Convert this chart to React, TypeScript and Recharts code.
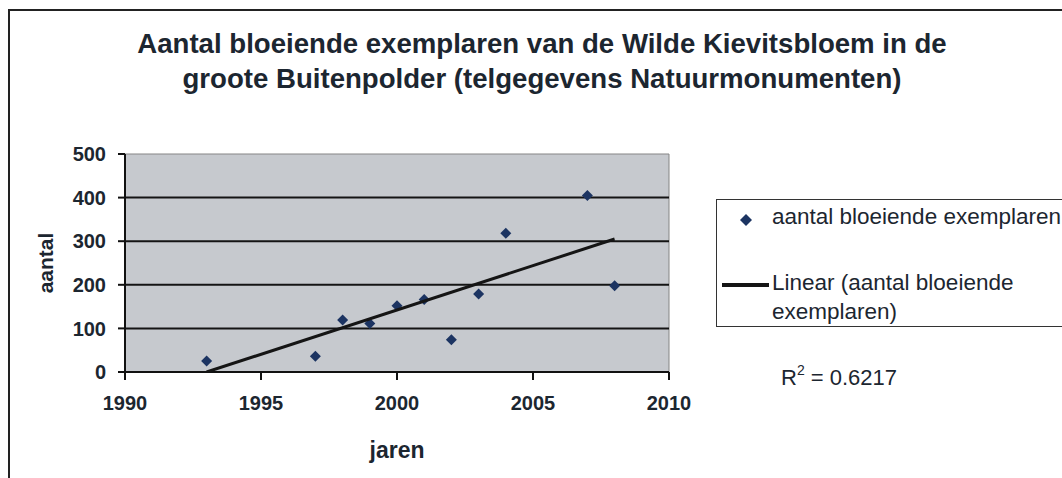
import { ScatterChart, Scatter, XAxis, YAxis, ReferenceArea, ReferenceLine, Label } from 'recharts'

// jaren + aantal bloeiende exemplaren
const years = [1993, 1997, 1998, 1999, 2000, 2001, 2002, 2003, 2004, 2007, 2008]
const counts = [25, 36, 119, 111, 152, 166, 74, 179, 318, 405, 198]

const trendYears = [1993, 2008]
const trendValues = [0, 305]

const xTicks = [1990, 1995, 2000, 2005, 2010]
const yTicks = [0, 100, 200, 300, 400, 500]
const gridValues = [100, 200, 300, 400]

const points = years.map((x, i) => ({ x, y: counts[i] }))
const trend = trendYears.map((x, i) => ({ x, y: trendValues[i] }))

const FONT = '"Liberation Sans", Arial, sans-serif'
const TEXT = '#1c2630'
const MARK = '#1c3462'

const Diamond = (props: any) => {
  const { cx, cy } = props
  const r = 5.5
  return <path d={`M${cx},${cy - r}L${cx + r},${cy}L${cx},${cy + r}L${cx - r},${cy}Z`} fill={MARK} />
}

export default function App() {
  const tickStyle = { fontSize: 20, fontWeight: 700, fill: TEXT, fontFamily: FONT }
  return (
    <div style={{ position: 'fixed', left: 0, top: 0, width: 1062, height: 478, overflow: 'hidden', background: '#fff', fontFamily: FONT }}>
      <div style={{ position: 'absolute', left: 8, top: 9, width: 1100, height: 500, borderLeft: '2px solid #222', borderTop: '2px solid #222' }} />
      <div style={{ position: 'absolute', left: 0, width: 1084, top: 26, textAlign: 'center', fontSize: 27.6, fontWeight: 700, color: TEXT, lineHeight: '35px', whiteSpace: 'nowrap' }}>
        Aantal bloeiende exemplaren van de Wilde Kievitsbloem in de
        <br />
        groote Buitenpolder (telgegevens Natuurmonumenten)
      </div>
      <div style={{ position: 'absolute', left: 0, top: 0 }}>
        <ScatterChart width={1062} height={478} margin={{ top: 154, right: 393, bottom: 66, left: 65 }}>
          <ReferenceArea x1={1990} x2={2010} y1={0} y2={500} fill="#c6c9ce" fillOpacity={1} stroke="#858585" strokeWidth={1} />
          {gridValues.map(v => (
            <ReferenceLine key={v} y={v} stroke="#141414" strokeWidth={2} />
          ))}
          <XAxis
            type="number"
            dataKey="x"
            domain={[1990, 2010]}
            ticks={xTicks}
            allowDataOverflow
            axisLine={{ stroke: '#111', strokeWidth: 2 }}
            tickLine={{ stroke: '#111', strokeWidth: 2 }}
            tickSize={8}
            tickMargin={16}
            tick={tickStyle}
            height={40}
          >
            <Label value="jaren" position="bottom" offset={30} style={{ fontSize: 23, fontWeight: 700, fill: TEXT, fontFamily: FONT }} />
          </XAxis>
          <YAxis
            type="number"
            dataKey="y"
            domain={[0, 500]}
            ticks={yTicks}
            allowDataOverflow
            axisLine={{ stroke: '#111', strokeWidth: 2 }}
            tickLine={{ stroke: '#111', strokeWidth: 2 }}
            tickSize={7}
            tickMargin={12}
            tick={tickStyle}
            width={60}
          >
            <Label value="aantal" angle={-90} position="insideLeft" offset={-19} style={{ fontSize: 21, fontWeight: 700, fill: TEXT, fontFamily: FONT, textAnchor: 'middle' }} />
          </YAxis>
          <Scatter data={points} shape={<Diamond />} isAnimationActive={false} />
          <Scatter data={trend} line={{ stroke: '#151515', strokeWidth: 3 }} shape={() => <g />} isAnimationActive={false} />
        </ScatterChart>
      </div>
      <div style={{ position: 'absolute', left: 716, top: 199, width: 400, height: 128, border: '1.5px solid #333', boxSizing: 'border-box' }}>
        <svg style={{ position: 'absolute', left: 22, top: 13 }} width={14} height={14}>
          <path d="M7,1L13,7L7,13L1,7Z" fill={MARK} />
        </svg>
        <div style={{ position: 'absolute', left: 55, top: 4, fontSize: 22.5, color: TEXT, whiteSpace: 'nowrap' }}>aantal bloeiende exemplaren</div>
        <div style={{ position: 'absolute', left: 5, top: 83, width: 47, height: 4, background: '#151515' }} />
        <div style={{ position: 'absolute', left: 55, top: 68, fontSize: 22.5, color: TEXT, lineHeight: '29px', whiteSpace: 'nowrap' }}>
          Linear (aantal bloeiende
          <br />
          exemplaren)
        </div>
      </div>
      <div style={{ position: 'absolute', left: 781, top: 365, fontSize: 22, color: TEXT }}>
        R<sup style={{ fontSize: 14, verticalAlign: 'top', position: 'relative', top: -3 }}>2</sup> = 0.6217
      </div>
    </div>
  )
}
